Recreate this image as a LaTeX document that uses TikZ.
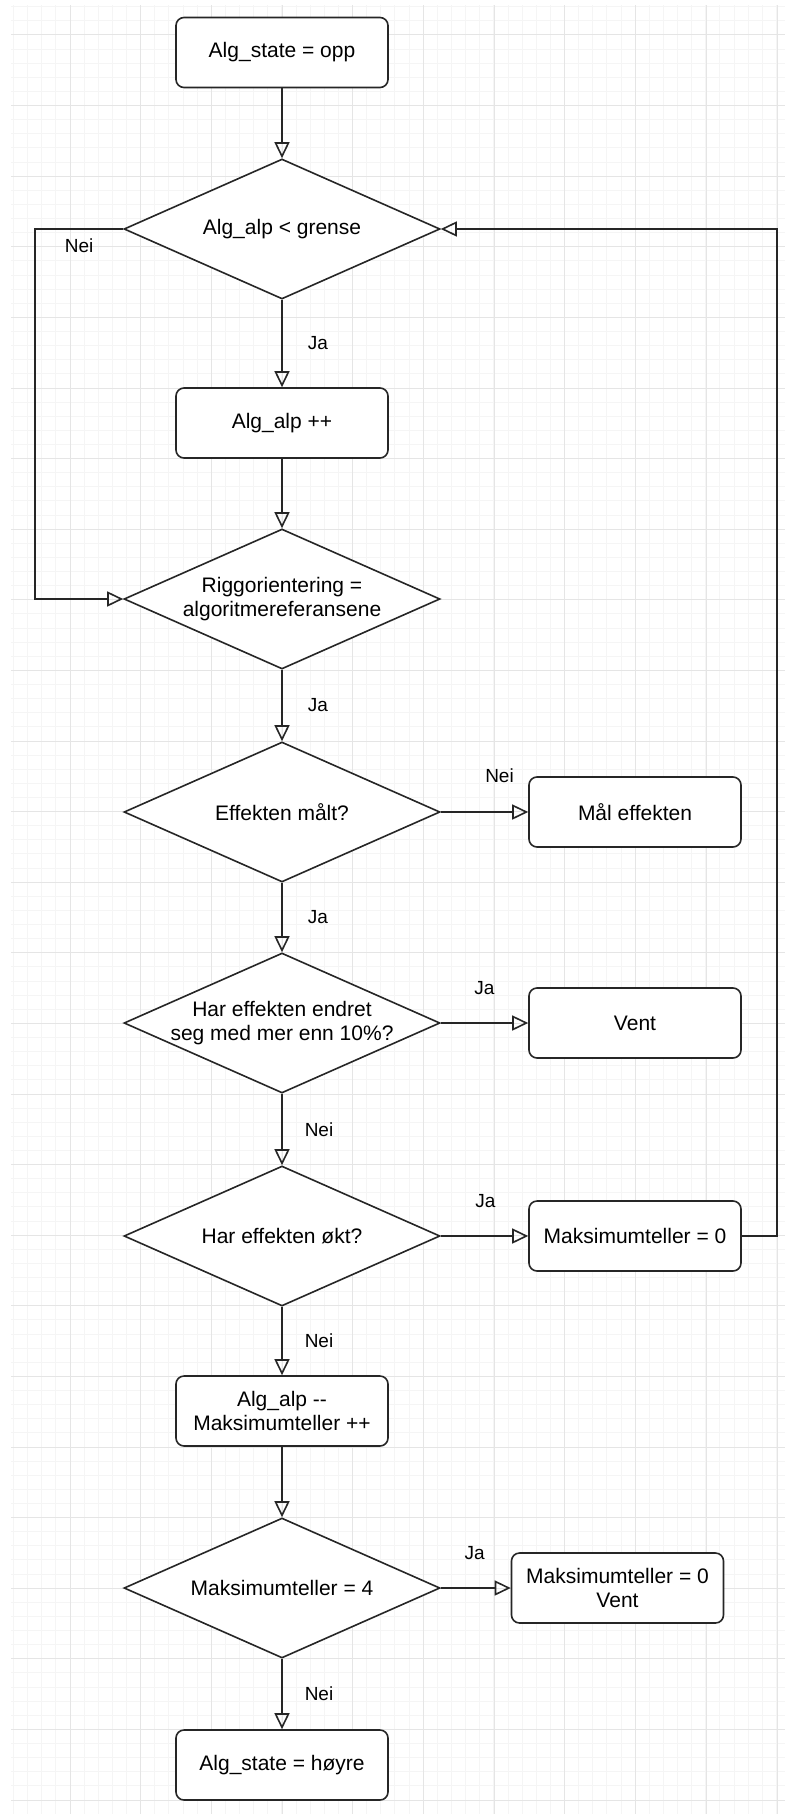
\documentclass[tikz,border=0pt]{standalone}
\usepackage{fontspec}
\setmainfont{Liberation Sans}
\usetikzlibrary{shapes.geometric,arrows.meta}
\begin{document}
\begin{tikzpicture}[x=1pt,y=-1pt,
  line width=1.6pt,
  gridminor/.style={draw=black!4, line width=1pt},
  gridmajor/.style={draw=black!10, line width=1pt},
  box/.style={draw=black!85, fill=white, rectangle, rounded corners=8pt,
    minimum width=212pt, minimum height=70pt, inner sep=0pt, align=center,
    font=\fontsize{21}{24}\selectfont},
  dec/.style={draw=black!85, fill=white, diamond, minimum width=316pt,
    minimum height=140pt, inner sep=0pt},
  dtext/.style={align=center, inner sep=0pt, font=\fontsize{21}{24}\selectfont},
  flow/.style={draw=black!85, -{Triangle[open,length=16pt,width=15pt]}},
  lab/.style={inner sep=0pt, font=\fontsize{19}{22}\selectfont},
]
% canvas
\useasboundingbox (0,0) rectangle (785,1814);
\fill[white] (0,0) rectangle (785,1814);

% background grid
\begin{scope}
  \clip (11,6) rectangle (785,1814);
  \foreach \i in {0,...,56} {
    \pgfmathsetmacro\gx{-0.65+14.13*\i}
    \draw[gridminor] (\gx,0) -- (\gx,1814);
  }
  \foreach \j in {0,...,131} {
    \pgfmathsetmacro\gy{-35.6+14.12*\j}
    \draw[gridminor] (0,\gy) -- (785,\gy);
  }
  \foreach \i in {-1,...,11} {
    \pgfmathsetmacro\gx{70+70.7*\i}
    \draw[gridmajor] (\gx,0) -- (\gx,1814);
  }
  \foreach \j in {-1,...,26} {
    \pgfmathsetmacro\gy{35+70.6*\j}
    \draw[gridmajor] (0,\gy) -- (785,\gy);
  }
\end{scope}

% loop rails
\coordinate (lx) at (35,0);
\coordinate (rx) at (777,0);

% main column
\node[box] (start) at (282,52.5) {Alg\_state = opp};
\node[dec, label={[dtext]center:Alg\_alp < grense}] (d1) at (282,229) {};
\node[box] (inc) at (282,423) {Alg\_alp ++};
\node[dec, label={[dtext]center:{Riggorientering =\\algoritmereferansene}}] (d2) at (282,599) {};
\node[dec, label={[dtext]center:Effekten målt?}] (d3) at (282,812) {};
\node[dec, label={[dtext]center:{Har effekten endret\\seg med mer enn 10\%?}}] (d4) at (282,1023) {};
\node[dec, label={[dtext]center:Har effekten økt?}] (d5) at (282,1236) {};
\node[box] (dec2) at (282,1411) {Alg\_alp \mbox{-}\mbox{-}\\Maksimumteller ++};
\node[dec, label={[dtext]center:Maksimumteller = 4}] (d6) at (282,1588) {};
\node[box] (fin) at (282,1765) {Alg\_state = høyre};

% side column
\node[box] (mal) at (635,812) {Mål effekten};
\node[box] (vent) at (635,1023) {Vent};
\node[box] (mz) at (635,1236) {Maksimumteller = 0};
\node[box] (mzv) at (617.5,1588) {Maksimumteller = 0\\Vent};

% connectors
\draw[flow] (start) -- (d1);
\draw[flow] (d1) -- node[lab, midway, xshift=36pt] (l1) {Ja} (inc);
\draw[flow] (d1.west) -- node[lab, midway, yshift=-17pt] (l2) {Nei} (d1.west -| lx) |- (d2.west);
\draw[flow] (inc) -- (d2);
\draw[flow] (d2) -- node[lab, midway, xshift=36pt] (l3) {Ja} (d3);
\draw[flow] (d3) -- node[lab, midway, xshift=15pt, yshift=36pt] (l4) {Nei} (mal);
\draw[flow] (d3) -- node[lab, midway, xshift=36pt] (l5) {Ja} (d4);
\draw[flow] (d4) -- node[lab, midway, yshift=35pt] (l6) {Ja} (vent);
\draw[flow] (d4) -- node[lab, midway, xshift=37pt] (l7) {Nei} (d5);
\draw[flow] (d5) -- node[lab, midway, xshift=1pt, yshift=35pt] (l8) {Ja} (mz);
\draw[flow] (mz.east) -- (mz.east -| rx) |- (d1.east);
\draw[flow] (d5) -- node[lab, midway, xshift=37pt] (l9) {Nei} (dec2);
\draw[flow] (dec2) -- (d6);
\draw[flow] (d6) -- node[lab, midway, xshift=-1pt, yshift=35pt] (l10) {Ja} (mzv);
\draw[flow] (d6) -- node[lab, midway, xshift=37pt] (l11) {Nei} (fin);
\end{tikzpicture}
\end{document}
